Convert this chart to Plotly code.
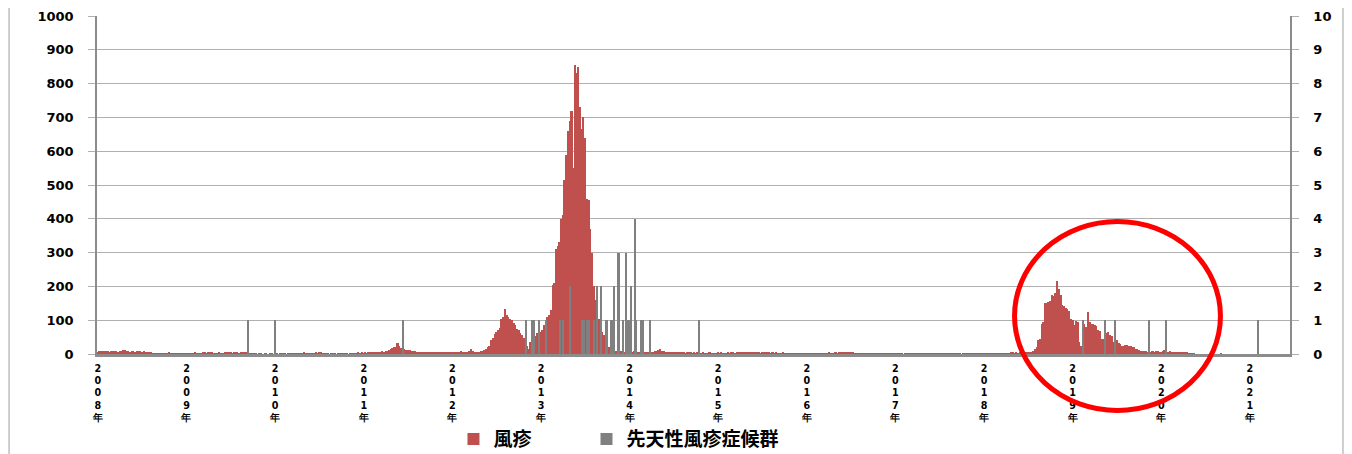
import plotly.graph_objects as go

# ---------------- data (weekly reported cases) ----------------
years = list(range(2008, 2022))
WEEKS_PER_YEAR = 52

rubella_2008 = [6,8,9,8,10,8,9,7,9,8, 8,9,7,10,8,12,13,9,8,7, 9,8,6,8,9,8,7,8,5,4, 3,3,2,2,1,2,2,1,2,1, 1,2,3,2,1,2,2,1,2,1, 2,1]
rubella_2009 = [1,2,1,1,2,3,1,2,1,2, 3,4,2,3,4,3,2,1,2,3, 2,1,2,3,3,4,3,2,3,4, 3,2,3,4,3,4,2,1,1,2, 1,1,0,1,1,0,1,1,0,1, 1,0]
rubella_2010 = [0,1,0,1,1,2,1,0,1,1, 2,1,1,2,1,1,2,3,2,1, 1,1,2,1,3,2,4,3,1,1, 2,1,0,1,1,1,0,1,1,1, 2,1,1,0,1,1,2,1,2,3, 2,3]
rubella_2011 = [2,3,2,4,3,4,5,4,6,5, 7,8,7,9,10,12,15,18,20,22, 32,25,18,15,14,12,13,11,10,8, 9,7,6,5,6,5,4,5,4,3, 4,5,4,3,3,4,3,5,4,3, 3,4]
rubella_2012 = [3,4,5,3,6, 8,5,6,5,7,10,15,8,6,5,7,6,8,10,12,15, 20,25, 40,48,60,66,72,78,
                105,110,132,115,110,105,100,92,85,75,70,62,55,48,35,25,15,35,40,48,52,62,60]
rubella_2013 = [64,70,85,95,110,115,130, 205,210,310,320,330,400,410, 515,590,660,690,720,550,
                855,830,850,730,665,700,640, 460,455,370,300,200,160,140, 105,95,65,55,35,28,20,
                20,18,12,10,10,8,8,6,7,5,6]
rubella_2014 = [6,7,5,8,6,5,7,6,8,5, 6,4,5,6,7,8,10,12,14,10, 8,7,6,5,6,4,5,3,4,5, 3,4,3,2,3,4,3,2,3,2, 3,2,2,3,2,1,2,3,2,2, 1,2]
rubella_2015 = [3,2,3,2,1,2,3,2,4,3, 2,3,4,5,3,4,5,4,3,4, 5,4,3,4,3,2,3,4,3,4, 3,2,3,2,3,2,1,2,3,2, 1,2,1,1,2,1,2,1,2,1, 1,2]
rubella_2016 = [1,2,1,1,2,1,2,1,2,1, 2,1,2,3,2,1,2,3,2,3, 4,5,6,5,4,5,4,3,2,2, 1,2,1,1,2,1,1,2,1,1, 2,1,1,1,2,1,1,2,1,1, 2,1]
rubella_2017 = [1,1,2,1,1,0,1,1,2,1, 1,1,2,1,1,2,1,1,1,2, 2,1,1,2,1,1,1,2,1,1, 1,1,2,1,1,1,2,1,1,0, 1,1,1,2,1,1,1,2,1,1, 1,2]
rubella_2018 = [1,2,1,1,2,1,2,1,1,2,1,2,1,1,2,2, 5,3,2,3,2,3,4,3,2,3,5,3,5,
                10,15,20,40,45,90,95,150,152,155,158,175,172,180,215,192,175,145,143,135,133,128,105]
rubella_2019 = [100,85,98,95,35,25,88,90,80,123, 95,88,88,85,84,70,69,45,44,58, 62,64,55,52,35,38,40,32,30,25,
                24,28,27,25,24,20,20,15,15,12, 10,10,10,8,7,7,6,8,7,8, 8,7]
rubella_2020 = [7,8,13,7,6,8,7,6,5,7, 6,5,4,5,3,3,2,1,1,1, 0,0,0,0,0,0,0,0,0,0, 0,0,0,0,0,2,0,0,0,0, 0,0,0,0,0,0,0,0,0,0, 0,0]
rubella_2021 = [0,0,0,0,0,0,0,0,0,0,0,0,0,0,0,0,0,0,0,0,0,0,0,0]

rubella_by_year = {
    2008: rubella_2008, 2009: rubella_2009, 2010: rubella_2010, 2011: rubella_2011,
    2012: rubella_2012, 2013: rubella_2013, 2014: rubella_2014, 2015: rubella_2015,
    2016: rubella_2016, 2017: rubella_2017, 2018: rubella_2018, 2019: rubella_2019,
    2020: rubella_2020, 2021: rubella_2021,
}

# congenital rubella syndrome: (year, week, count)
crs_year  = [2009, 2010, 2011, 2012, 2012, 2012, 2012, 2013, 2013, 2013, 2013, 2013, 2013, 2013, 2013,
             2013, 2013, 2013, 2013, 2013, 2013, 2013, 2013, 2013, 2013, 2013, 2013, 2013,
             2014, 2014, 2014, 2014, 2014, 2014, 2014, 2014, 2019, 2019, 2019, 2019, 2020, 2021]
crs_week  = [36, 0, 23, 43, 47, 48, 51, 3, 11, 13, 17, 24, 25, 27, 28,
             31, 33, 35, 38, 39, 41, 42, 43, 45, 46, 48, 50, 51,
             0, 1, 3, 4, 7, 8, 12, 41, 6, 19, 25, 45, 3, 5]
crs_count = [1, 1, 1, 1, 1, 1, 1, 1, 1, 1, 2, 1, 1, 1, 1,
             1, 2, 2, 1, 1, 1, 1, 2, 3, 3, 1, 3, 1,
             1, 2, 4, 1, 1, 1, 1, 1, 1, 1, 1, 1, 1, 1]

tick_years = years
tick_text = ["<br>".join(str(y)) + "<br>年" for y in tick_years]

# ---------------- build ----------------
x_r, y_r = [], []
for yr, vals in rubella_by_year.items():
    for k, v in enumerate(vals):
        x_r.append((yr - 2008) * WEEKS_PER_YEAR + k)
        y_r.append(v)
x_c = [(yr - 2008) * WEEKS_PER_YEAR + wk for yr, wk in zip(crs_year, crs_week)]
n_weeks = 13 * WEEKS_PER_YEAR + len(rubella_2021)

RED = "#C0504D"
GRAY = "#808080"
AXIS = "#8C8C8C"
GRID = "#B0B0B0"
FONT = "DejaVu Sans"
LEGEND_FONT = dict(family="Noto Sans CJK JP", size=19, color="#000000", weight="bold")

fig = go.Figure()
fig.add_bar(x=x_r, y=y_r, name="風疹", width=1.0,
            marker=dict(color=RED, line=dict(width=0)), yaxis="y", legend="legend")
fig.add_bar(x=x_c, y=crs_count, name="先天性風疹症候群", width=0.65,
            marker=dict(color=GRAY, line=dict(width=0)), yaxis="y2", legend="legend2")

fig.update_layout(
    width=1344, height=446,
    margin=dict(l=89, r=62, t=8, b=100, autoexpand=False),
    paper_bgcolor="white", plot_bgcolor="white",
    barmode="overlay", bargap=0,
    showlegend=True,
    legend=dict(orientation="h", x=0.2988, y=-0.252, xanchor="left", yanchor="middle",
                font=LEGEND_FONT, bgcolor="rgba(0,0,0,0)"),
    legend2=dict(orientation="h", x=0.4103, y=-0.252, xanchor="left", yanchor="middle",
                 font=LEGEND_FONT, bgcolor="rgba(0,0,0,0)"),
    xaxis=dict(range=[-0.5, n_weeks - 0.5], tickmode="array",
               tickvals=[(y - 2008) * WEEKS_PER_YEAR for y in tick_years], ticktext=tick_text,
               tickangle=0, ticks="", showgrid=False, zeroline=False,
               showline=True, linecolor=AXIS, linewidth=3, automargin=False,
               ticklabelstandoff=3,
               tickfont=dict(family=FONT, size=9.6, color="#000000", weight="bold")),
    yaxis=dict(range=[0, 1000], dtick=100, tick0=0, showgrid=True, gridcolor=GRID, gridwidth=1.3,
               zeroline=False, showline=True, linecolor=AXIS, linewidth=1.5,
               ticks="outside", ticklen=7, tickcolor=GRID, tickwidth=1.3, ticklabelstandoff=12,
               automargin=False,
               tickfont=dict(family=FONT, size=13, color="#000000", weight="bold")),
    yaxis2=dict(range=[0, 10], dtick=1, tick0=0, overlaying="y", side="right", showgrid=False,
                zeroline=False, showline=True, linecolor=AXIS, linewidth=1.5,
                ticks="outside", ticklen=7, tickcolor=GRID, tickwidth=1.3, ticklabelstandoff=12,
                automargin=False,
                tickfont=dict(family=FONT, size=13, color="#000000", weight="bold")),
    shapes=[
        dict(type="rect", xref="paper", yref="paper", x0=-0.0737, x1=1.0444, y0=-0.32, y1=1.1,
             line=dict(color="#BFBFBF", width=1.5), fillcolor="rgba(0,0,0,0)", layer="below"),
        dict(type="circle", xref="paper", yref="paper", x0=0.7691, x1=0.9417, y0=-0.1672, y1=0.392,
             line=dict(color="#FF0000", width=5), fillcolor="rgba(0,0,0,0)", layer="above"),
    ],
)

fig.write_html("out.html")
